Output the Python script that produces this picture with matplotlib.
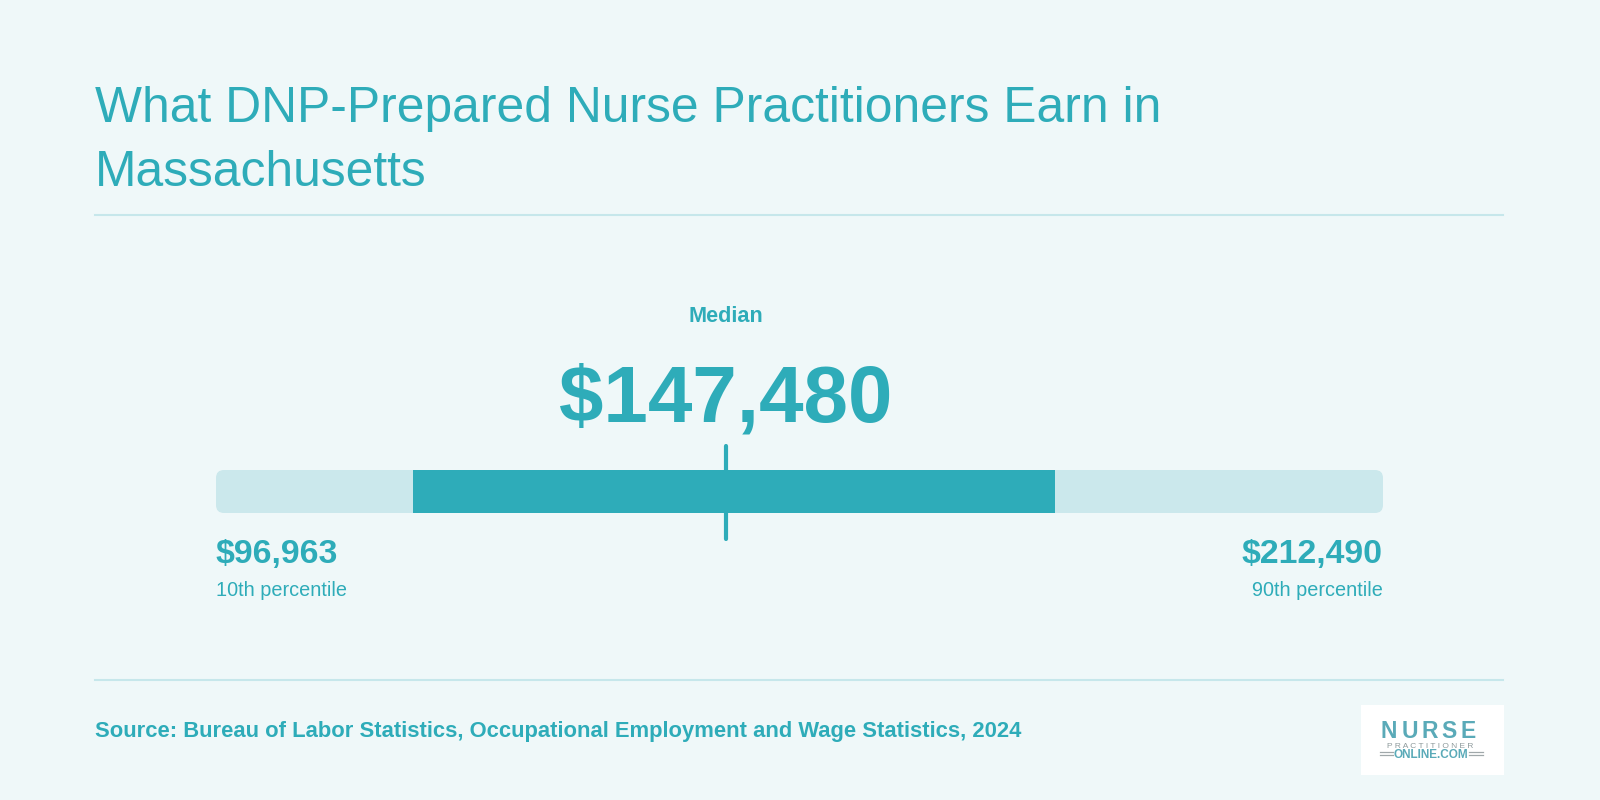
import matplotlib.pyplot as plt
from matplotlib.patches import FancyBboxPatch, Rectangle
from matplotlib.lines import Line2D

# --------------------------------------------------
# DATA
# --------------------------------------------------

title_lines = ["What DNP-Prepared Nurse Practitioners Earn in", "Massachusetts"]
source = "Source: Bureau of Labor Statistics, Occupational Employment and Wage Statistics, 2024"

p10 = 96963
p90 = 212490
median = 147480
# middle band (roughly 25th-75th percentile)
band_low = 116500
band_high = 180000

low_label = "$96,963"
high_label = "$212,490"
median_label = "$147,480"

# --------------------------------------------------
# COLOURS
# --------------------------------------------------

bg = "#EFF8F9"
teal = "#2EACB9"
light = "#CBE8EC"
rule = "#C6E7EB"

W, H = 1600, 800


def fx(px):
    return px / W


def fy(py):
    # pixel from the top -> figure fraction
    return 1 - py / H


plt.rcParams["font.family"] = ["Liberation Sans", "DejaVu Sans"]

fig = plt.figure(figsize=(16, 8), dpi=100, facecolor=bg)

# --------------------------------------------------
# TITLE AND RULES
# --------------------------------------------------

for line, base in zip(title_lines, [122, 186]):
    fig.text(fx(95), fy(base), line, fontsize=35.8, color=teal,
             ha="left", va="baseline")

fig.add_artist(Line2D([fx(95), fx(1503)], [fy(215.5), fy(215.5)],
                      color=rule, lw=1.5))
fig.add_artist(Line2D([fx(95), fx(1503)], [fy(679.5), fy(679.5)],
                      color=rule, lw=1.5))

# --------------------------------------------------
# BAR
# --------------------------------------------------

bar_left, bar_right = 216, 1383
ax_top, ax_bot = 440, 545
ax = fig.add_axes([fx(bar_left), fy(ax_bot), (bar_right - bar_left) / W,
                   (ax_bot - ax_top) / H])
ax.set_xlim(p10, p90)
ax.set_ylim(0, ax_bot - ax_top)
ax.axis("off")
ax.patch.set_alpha(0)

dollars_per_px = (p90 - p10) / (bar_right - bar_left)
bar_y = ax_bot - 513
bar_h = 513 - 470

ax.add_patch(FancyBboxPatch(
    (p10, bar_y), p90 - p10, bar_h,
    boxstyle=f"round,pad=0,rounding_size={8 * dollars_per_px}",
    mutation_aspect=1 / dollars_per_px,
    facecolor=light, edgecolor="none",
))
ax.add_patch(Rectangle((band_low, bar_y), band_high - band_low, bar_h,
                       facecolor=teal, edgecolor="none"))
ax.plot([median, median], [ax_bot - 539, ax_bot - 446],
        color=teal, lw=3, solid_capstyle="round")

# --------------------------------------------------
# LABELS
# --------------------------------------------------

fig.text(fx(726), fy(322), "Median", fontsize=15.6, fontweight="bold",
         color=teal, ha="center", va="baseline")
fig.text(fx(726), fy(422), median_label, fontsize=57.6, fontweight="bold",
         color=teal, ha="center", va="baseline")

fig.text(fx(216), fy(563), low_label, fontsize=24.4, fontweight="bold",
         color=teal, ha="left", va="baseline")
fig.text(fx(216), fy(596), "10th percentile", fontsize=14.3,
         color=teal, ha="left", va="baseline")
fig.text(fx(1383), fy(563), high_label, fontsize=24.4, fontweight="bold",
         color=teal, ha="right", va="baseline")
fig.text(fx(1383), fy(596), "90th percentile", fontsize=14.3,
         color=teal, ha="right", va="baseline")

fig.text(fx(95), fy(737), source, fontsize=15.8, fontweight="bold",
         color=teal, ha="left", va="baseline")

# --------------------------------------------------
# LOGO
# --------------------------------------------------

fig.add_artist(Rectangle((fx(1361), fy(775)), fx(1504 - 1361), (775 - 705) / H,
                         facecolor="white", edgecolor="none"))
for ch, cx in zip("NURSE", [1389, 1409.5, 1429.5, 1449, 1468.5]):
    fig.text(fx(cx), fy(738), ch, fontsize=16.5, fontweight="bold",
             color="#5AAAB8", ha="center", va="baseline")
fig.text(fx(1430.5), fy(747.5), " ".join("PRACTITIONER"), fontsize=6,
         color="#8E9A9C", ha="center", va="baseline")
fig.text(fx(1431), fy(757.5), "ONLINE.COM", fontsize=8.5, fontweight="bold",
         color="#5AAAB8", ha="center", va="baseline")
for x0, x1 in [(1380, 1393), (1469, 1483)]:
    for yy in (752, 755):
        fig.add_artist(Line2D([fx(x0), fx(x1)], [fy(yy), fy(yy)],
                              color="#A0A8AA", lw=0.9))

fig.savefig("out.png", dpi=100, facecolor=bg)
